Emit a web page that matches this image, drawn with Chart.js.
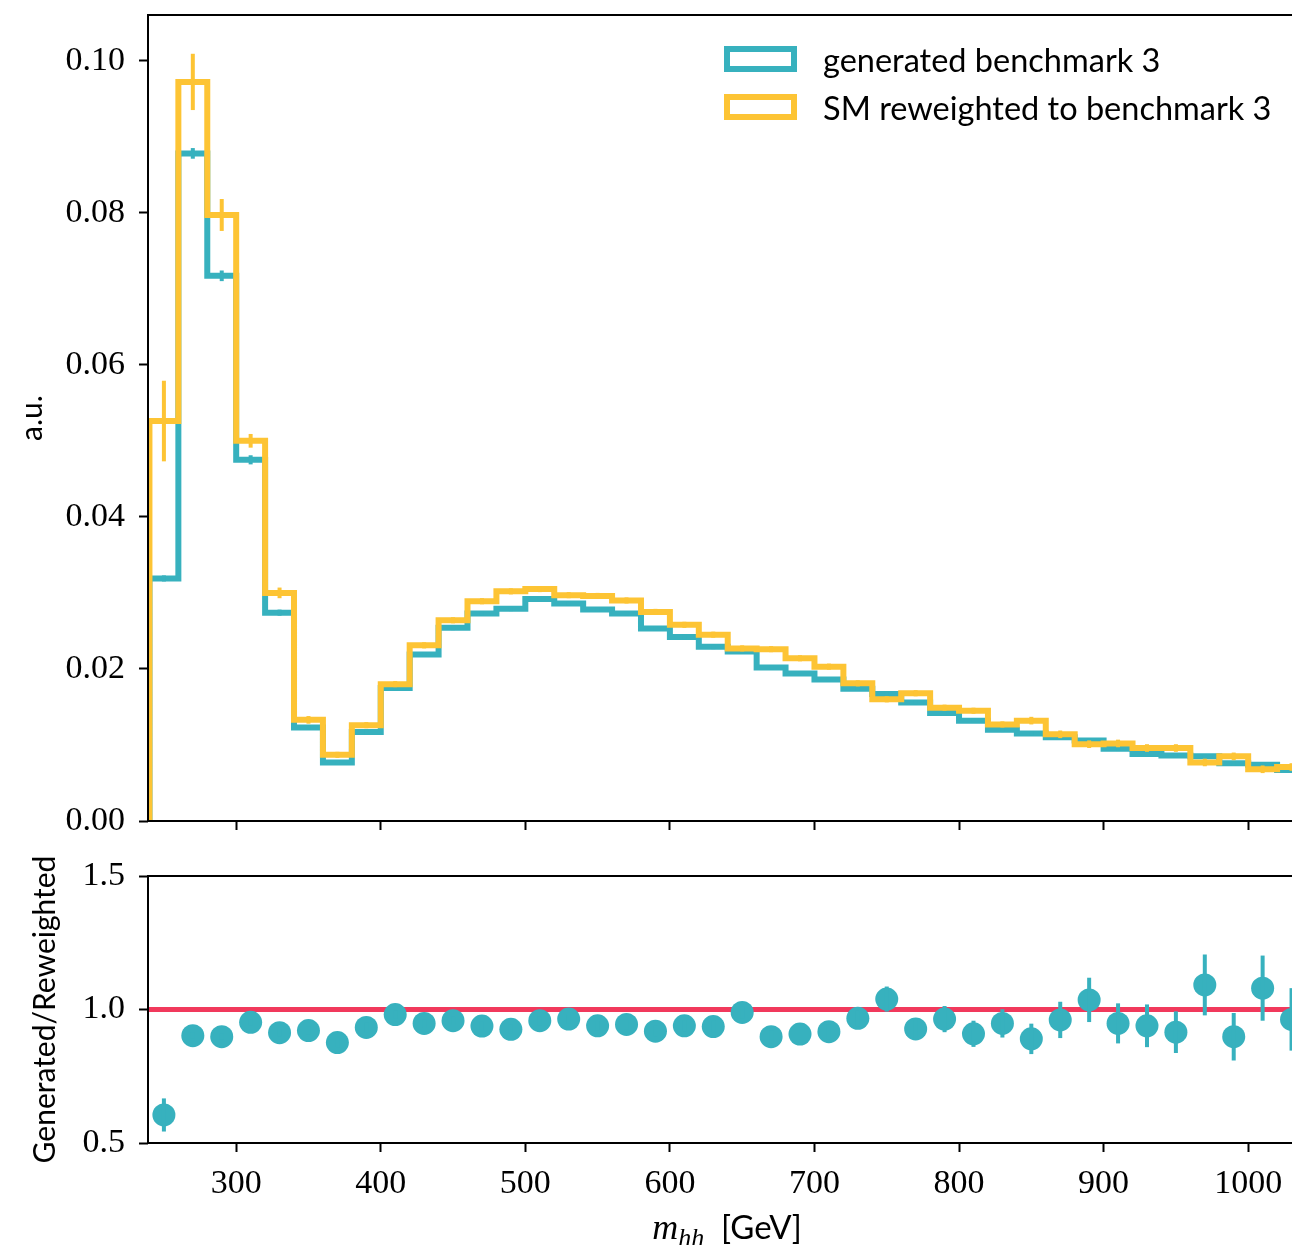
<!DOCTYPE html>
<html>
<head>
<meta charset="utf-8">
<script src="https://cdn.jsdelivr.net/npm/chart.js@4.4.0/dist/chart.umd.min.js"></script>
<style>
  html, body { margin: 0; padding: 0; overflow: hidden; background: #fff; width: 1292px; height: 1245px; }
  #hist { position: absolute; left: 0; top: 0; }
  #ratio { position: absolute; left: 0; top: 848px; }
</style>
</head>
<body>
<canvas id="hist" width="1306" height="848"></canvas>
<canvas id="ratio" width="1306" height="397"></canvas>
<script>
// bin edges of m_hh [GeV]
const binEdges = [240, 260, 280, 300, 320, 340, 360, 380, 400, 420, 440, 460, 480, 500, 520, 540, 560, 580, 600, 620,
  640, 660, 680, 700, 720, 740, 760, 780, 800, 820, 840, 860, 880, 900, 920, 940, 960, 980, 1000, 1020, 1040];

const generated = [0.0319, 0.0878, 0.0717, 0.0475, 0.0274, 0.0123, 0.0077, 0.0117, 0.0175, 0.0219,
  0.0254, 0.0273, 0.0279, 0.0292, 0.0286, 0.0278, 0.0273, 0.0253, 0.0242, 0.0229,
  0.0223, 0.0202, 0.0194, 0.0186, 0.0174, 0.0167, 0.0156, 0.0142, 0.0132, 0.0120,
  0.0115, 0.0110, 0.0106, 0.0095, 0.0088, 0.0086, 0.0085, 0.0076, 0.0074, 0.0067];
const generatedErr = [0.0004, 0.0007, 0.0007, 0.0006, 0.0004, 0.0003, 0.0003, 0.0003, 0.0003, 0.0003,
  0.0003, 0.0003, 0.0003, 0.0003, 0.0003, 0.0003, 0.0003, 0.0003, 0.0003, 0.0003,
  0.0003, 0.0003, 0.0003, 0.0003, 0.0003, 0.0003, 0.0003, 0.0003, 0.0003, 0.0003,
  0.0003, 0.0003, 0.0003, 0.0003, 0.0003, 0.0003, 0.0003, 0.0003, 0.0003, 0.0003];

const reweighted = [0.0526, 0.0972, 0.0797, 0.0500, 0.0300, 0.0133, 0.0087, 0.0126, 0.0180, 0.0231,
  0.0264, 0.0289, 0.0302, 0.0305, 0.0297, 0.0296, 0.0290, 0.0275, 0.0258, 0.0245,
  0.0227, 0.0226, 0.0214, 0.0203, 0.0181, 0.0160, 0.0168, 0.0149, 0.0145, 0.0127,
  0.0132, 0.0114, 0.0101, 0.0102, 0.0096, 0.0096, 0.0077, 0.0085, 0.0068, 0.0071];
const reweightedErr = [0.0053, 0.0037, 0.0021, 0.0009, 0.0007, 0.0005, 0.0004, 0.0004, 0.0004, 0.0004,
  0.0004, 0.0004, 0.0004, 0.0004, 0.0004, 0.0004, 0.0004, 0.0004, 0.0004, 0.0004,
  0.0004, 0.0004, 0.0004, 0.0004, 0.0004, 0.0004, 0.0004, 0.0004, 0.0004, 0.0004,
  0.0005, 0.0005, 0.0005, 0.0005, 0.0005, 0.0005, 0.0005, 0.0005, 0.0005, 0.0005];

const ratio = [0.605, 0.902, 0.898, 0.952, 0.913, 0.921, 0.876, 0.933, 0.981, 0.948,
  0.958, 0.938, 0.926, 0.958, 0.964, 0.939, 0.944, 0.919, 0.939, 0.936,
  0.989, 0.898, 0.908, 0.917, 0.967, 1.039, 0.927, 0.964, 0.909, 0.948,
  0.890, 0.961, 1.036, 0.948, 0.939, 0.915, 1.092, 0.898, 1.080, 0.963];
const ratioErr = [0.062, 0.012, 0.012, 0.012, 0.014, 0.016, 0.020, 0.018, 0.016, 0.016,
  0.016, 0.016, 0.017, 0.017, 0.018, 0.018, 0.019, 0.020, 0.021, 0.022,
  0.023, 0.025, 0.026, 0.028, 0.030, 0.047, 0.038, 0.049, 0.049, 0.053,
  0.057, 0.068, 0.083, 0.075, 0.080, 0.078, 0.114, 0.089, 0.122, 0.117];

const xTicks = [300, 400, 500, 600, 700, 800, 900, 1000];
const histTicks = [0.00, 0.02, 0.04, 0.06, 0.08, 0.10];
const ratioTicks = [0.5, 1.0, 1.5];

const X_MIN = 239;
const X_MAX = 1040;

const TEAL = "#37b1be";
const YELLOW = "#fdc434";
const RED = "#f1395c";
const SERIF = "'Liberation Serif', 'DejaVu Serif', serif";
const SANS = "Lato, 'Open Sans', sans-serif";

const binCenters = binEdges.slice(0, -1).map((e, i) => (e + binEdges[i + 1]) / 2);

// step outline: start at 0 on the first edge, one point per left edge, close on the last edge
function stepPoints(values) {
  const pts = [{ x: binEdges[0], y: 0 }];
  values.forEach((v, i) => pts.push({ x: binEdges[i], y: v }));
  pts.push({ x: binEdges[binEdges.length - 1], y: values[values.length - 1] });
  return pts;
}

const frame = {
  id: "frame",
  afterDraw(chart) {
    const { ctx, chartArea: a } = chart;
    ctx.save();
    ctx.strokeStyle = "#000";
    ctx.lineWidth = 2;
    ctx.strokeRect(a.left, a.top, a.right - a.left, a.bottom - a.top);
    ctx.restore();
  },
};

const errorBars = {
  id: "errorBars",
  afterDatasetDraw(chart, args) {
    const ds = chart.data.datasets[args.index];
    if (!ds.errs) return;
    const { ctx } = chart;
    const xs = chart.scales.x, ys = chart.scales.y;
    ctx.save();
    ctx.strokeStyle = ds.errColor;
    ctx.lineWidth = ds.errWidth;
    ds.errs.forEach((e, i) => {
      const px = xs.getPixelForValue(binCenters[i]);
      ctx.beginPath();
      ctx.moveTo(px, ys.getPixelForValue(ds.errVals[i] - e));
      ctx.lineTo(px, ys.getPixelForValue(ds.errVals[i] + e));
      ctx.stroke();
    });
    ctx.restore();
  },
};

const legendItems = [
  { label: "generated benchmark 3", color: TEAL },
  { label: "SM reweighted to benchmark 3", color: YELLOW },
];

const legendBox = {
  id: "legendBox",
  afterDraw(chart) {
    const { ctx } = chart;
    ctx.save();
    legendItems.forEach((item, i) => {
      const y = 49 + i * 48;
      ctx.strokeStyle = item.color;
      ctx.lineWidth = 6;
      ctx.strokeRect(727, y, 67, 20);
      ctx.fillStyle = "#000";
      ctx.font = "32.5px " + SANS;
      ctx.textBaseline = "middle";
      ctx.textAlign = "left";
      ctx.fillText(item.label, 823, y + 13);
    });
    ctx.restore();
  },
};

const xTitle = {
  id: "xTitle",
  afterDraw(chart) {
    const { ctx } = chart;
    ctx.save();
    ctx.fillStyle = "#000";
    ctx.textBaseline = "alphabetic";
    ctx.textAlign = "left";
    const parts = [
      { t: "m", f: "italic 36px " + SERIF, dy: 0 },
      { t: "hh", f: "italic 26px " + SERIF, dy: 7 },
      { t: "  [GeV]", f: "33px " + SANS, dy: 0 },
    ];
    let total = 0;
    parts.forEach((p) => { ctx.font = p.f; p.w = ctx.measureText(p.t).width; total += p.w; });
    let x = 727 - total / 2;
    const base = 391;
    parts.forEach((p) => { ctx.font = p.f; ctx.fillText(p.t, x, base + p.dy); x += p.w; });
    ctx.restore();
  },
};

function noEdgePadding(s) {
  s.paddingTop = 0;
  s.paddingBottom = 0;
  s.paddingLeft = 0;
  s.paddingRight = 0;
}

function xScale(showLabels, height) {
  return {
    type: "linear",
    min: X_MIN,
    max: X_MAX,
    afterBuildTicks: (s) => { s.ticks = xTicks.map((v) => ({ value: v })); },
    afterFit: (s) => { s.height = height; noEdgePadding(s); },
    ticks: { display: showLabels, color: "#000", padding: 12, maxRotation: 0, font: { family: SERIF, size: 34 },
      callback: (v) => String(v) },
    grid: { drawOnChartArea: false, tickLength: 9, tickWidth: 2, color: "#000" },
    border: { display: false },
  };
}

function yScale(min, max, ticks, digits, title, titlePad) {
  return {
    min: min,
    max: max,
    afterBuildTicks: (s) => { s.ticks = ticks.map((v) => ({ value: v })); },
    afterFit: (s) => { s.width = 148; noEdgePadding(s); },
    ticks: { color: "#000", padding: 14, font: { family: SERIF, size: 34 }, callback: (v) => v.toFixed(digits) },
    grid: { drawOnChartArea: false, tickLength: 9, tickWidth: 2, color: "#000" },
    border: { display: false },
    title: { display: true, text: title, color: "#000", font: { family: SANS, size: 30 }, padding: { top: titlePad, bottom: 0 } },
  };
}

Chart.defaults.font.family = SANS;

new Chart(document.getElementById("hist"), {
  type: "line",
  data: {
    datasets: [
      {
        label: "SM reweighted to benchmark 3",
        data: stepPoints(reweighted),
        stepped: "before",
        borderColor: YELLOW,
        borderWidth: 6,
        borderJoinStyle: "miter",
        pointRadius: 0,
        fill: false,
        errs: reweightedErr, errVals: reweighted, errColor: YELLOW, errWidth: 4,
      },
      {
        label: "generated benchmark 3",
        data: stepPoints(generated),
        stepped: "before",
        borderColor: TEAL,
        borderWidth: 6,
        borderJoinStyle: "miter",
        pointRadius: 0,
        fill: false,
        errs: generatedErr, errVals: generated, errColor: TEAL, errWidth: 4,
      },
    ],
  },
  options: {
    responsive: false,
    animation: false,
    layout: { autoPadding: false, padding: { top: 15, left: 0, right: 0, bottom: 0 } },
    plugins: { legend: { display: false }, tooltip: { enabled: false } },
    scales: {
      x: xScale(false, 27),
      y: yScale(0, 0.106, histTicks, 2, "a.u.", 14),
    },
  },
  plugins: [errorBars, frame, legendBox],
});

new Chart(document.getElementById("ratio"), {
  type: "line",
  data: {
    datasets: [
      {
        label: "Generated/Reweighted",
        data: binCenters.map((c, i) => ({ x: c, y: ratio[i] })),
        showLine: false,
        pointRadius: 11.5,
        pointBackgroundColor: TEAL,
        pointBorderWidth: 0,
        errs: ratioErr, errVals: ratio, errColor: TEAL, errWidth: 4,
      },
      {
        label: "unity",
        data: [{ x: X_MIN, y: 1 }, { x: X_MAX, y: 1 }],
        borderColor: RED,
        borderWidth: 5,
        pointRadius: 0,
      },
    ],
  },
  options: {
    responsive: false,
    animation: false,
    layout: { autoPadding: false, padding: { top: 28, left: 0, right: 0, bottom: 0 } },
    plugins: { legend: { display: false }, tooltip: { enabled: false } },
    scales: {
      x: xScale(true, 102),
      y: yScale(0.5, 1.5, ratioTicks, 1, "Generated/Reweighted", 27),
    },
  },
  plugins: [errorBars, frame, xTitle],
});
</script>
</body>
</html>
